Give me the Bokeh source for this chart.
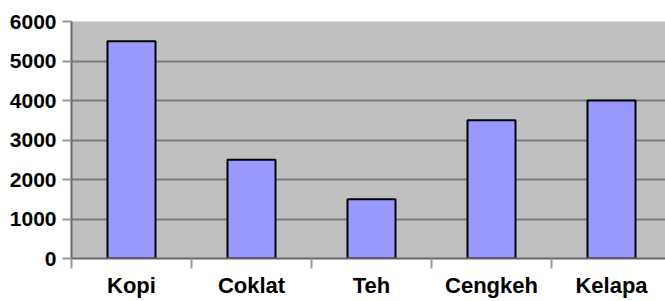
from bokeh.plotting import figure
from bokeh.models import FixedTicker, Range1d, ColumnDataSource
from bokeh.embed import file_html
from bokeh.resources import INLINE

categories = ["Kopi", "Coklat", "Teh", "Cengkeh", "Kelapa"]
values = [5500, 2500, 1500, 3500, 4000]
y_ticks = [0, 1000, 2000, 3000, 4000, 5000, 6000]

xs = [i + 0.5 for i in range(len(categories))]
src = ColumnDataSource(dict(x=xs, top=values, name=categories))

p = figure(width=665, height=301, output_backend="svg", toolbar_location=None,
           x_range=Range1d(0, 4.95), y_range=Range1d(0, 6000),
           min_border_left=71, min_border_right=0, min_border_top=21, min_border_bottom=43)

p.background_fill_color = "#c0c0c0"
p.border_fill_color = "white"
p.outline_line_color = None

p.vbar(x="x", top="top", bottom=0, width=0.4, source=src,
       fill_color="#9999ff", line_color="black", line_width=2)

# grid
p.xgrid.grid_line_color = None
p.ygrid.ticker = FixedTicker(ticks=y_ticks)
p.ygrid.grid_line_color = "#7a7a7a"
p.ygrid.grid_line_width = 2

# y axis
ya = p.yaxis[0]
ya.ticker = FixedTicker(ticks=y_ticks, minor_ticks=[])
ya.axis_line_color = "#666666"
ya.axis_line_width = 2
ya.major_tick_line_color = "#9a9a9a"
ya.major_tick_line_width = 2
ya.major_tick_in = 0
ya.major_tick_out = 9
ya.minor_tick_line_color = None
ya.major_label_text_font = "Liberation Sans"
ya.major_label_text_font_style = "bold"
ya.major_label_text_font_size = "21px"
ya.major_label_text_color = "black"
ya.major_label_standoff = 6

# x axis
xa = p.xaxis[0]
xa.ticker = FixedTicker(ticks=xs, minor_ticks=list(range(len(categories) + 1)))
xa.major_label_overrides = {x: c for x, c in zip(xs, categories)}
xa.axis_line_color = "#666666"
xa.axis_line_width = 2
xa.major_tick_line_color = None
xa.minor_tick_line_color = "#9a9a9a"
xa.minor_tick_line_width = 2
xa.minor_tick_in = 0
xa.minor_tick_out = 10
xa.major_label_text_font = "Liberation Sans"
xa.major_label_text_font_style = "bold"
xa.major_label_text_font_size = "22px"
xa.major_label_text_color = "black"
xa.major_label_standoff = 4

open("out.html", "w").write(file_html(p, INLINE))
